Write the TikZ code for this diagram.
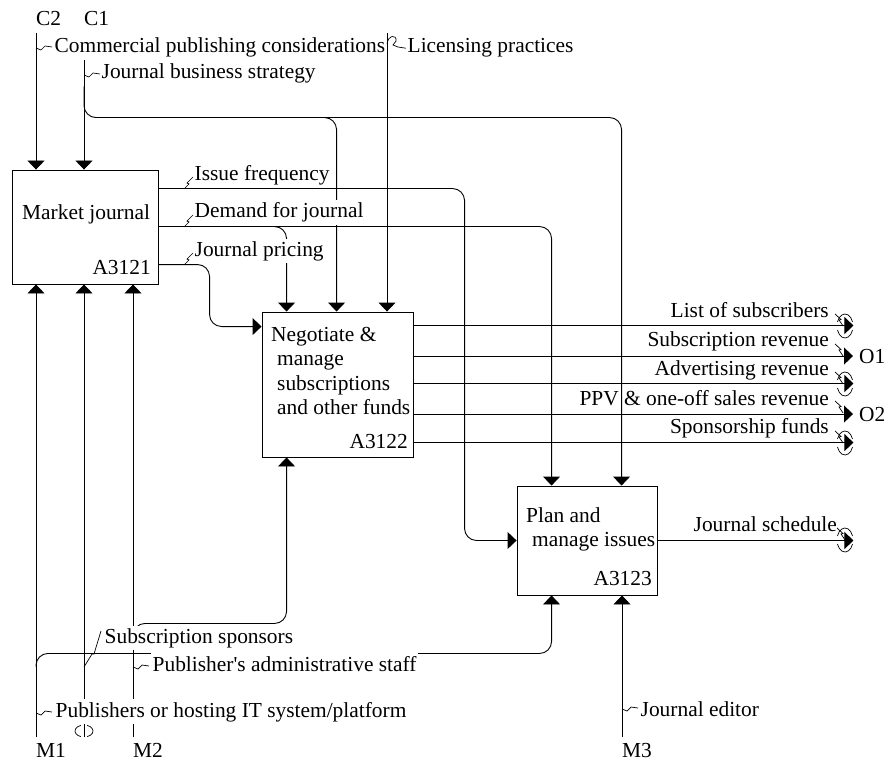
\documentclass[tikz,border=0pt]{standalone}
\usepackage{fontspec}
\setmainfont{Liberation Serif}
\usetikzlibrary{arrows.meta,positioning,calc}
\tikzset{
  fnbox/.style={draw,line width=0.9pt,inner sep=0pt,minimum width=146pt,minimum height=114pt},
  fntext/.style={font=\fontsize{21.4}{24.5}\selectfont,inner sep=0pt,align=left},
  fnnum/.style={font=\fontsize{21.4}{24.5}\selectfont,inner sep=0pt,anchor=base east},
  bnd/.style={font=\fontsize{21.4}{24.5}\selectfont,inner sep=0pt,anchor=base west},
  lbl/.style={font=\fontsize{21.4}{24.5}\selectfont,fill=white,inner xsep=1.5pt,inner ysep=2.5pt,anchor=base west},
  olbl/.style={font=\fontsize{21.4}{24.5}\selectfont,inner sep=1pt,anchor=base east},
  arr/.style={-{Triangle[length=9pt,width=17pt]},line width=0.9pt,rounded corners=12pt},
  sq/.style={line width=0.7pt},
  tunh/.pic={\draw[sq] (-8,0) ++(200:8 and 12) arc[start angle=200,end angle=340,x radius=8,y radius=12];
             \draw[sq] (-8,0) ++(20:8 and 12) arc[start angle=20,end angle=160,x radius=8,y radius=12];},
  tunv/.pic={\draw[sq] (110:9 and 6) arc[start angle=110,end angle=250,x radius=9,y radius=6];
             \draw[sq] (-70:9 and 6) arc[start angle=-70,end angle=70,x radius=9,y radius=6];},
  sw/.pic={\draw[sq] (0,0) -- (5,2) -- (9,-2) -- (16,-1);},
  zz/.pic={\draw[sq] (0,0) -- (5,-5) -- (3,-6) -- (9,-12);},
  zzo/.pic={\draw[sq] (0,0) -- (-4,-6) -- (-2,-6.5) -- (-8,-12);}
}
\begin{document}
\begin{tikzpicture}[x=1pt,y=-1pt]
  \useasboundingbox (0,0) rectangle (886,762);
  % activity boxes
  \node[fnbox] (a1) at (85,227) {};
  \node[fnbox,minimum width=151pt,minimum height=145pt] (a2) at (337.5,384.5) {};
  \node[fnbox,minimum width=140pt,minimum height=109pt] (a3) at (587,540.5) {};
  \node[fntext,anchor=base west] (a1t) at (22,220) {Market journal};
  \node[fnnum] (a1n) at (151,274) {A3121};
  \node[fntext,anchor=north west] (a2t) at (271,327) {Negotiate \&\\\hspace*{6pt}manage\\\hspace*{6pt}subscriptions\\\hspace*{6pt}and other funds};
  \node[fnnum] (a2n) at (408,448) {A3122};
  \node[fntext,anchor=north west] (a3t) at (526,507) {Plan and\\\hspace*{6pt}manage issues};
  \node[fnnum] (a3n) at (652,585) {A3123};
  % boundary codes
  \node[bnd] (c2) at (36,26) {C2};
  \node[bnd] (c1) at (84,26) {C1};
  \node[bnd] (m1) at (36,757) {M1};
  \node[bnd] (m2) at (133,757) {M2};
  \node[bnd] (m3) at (622,757) {M3};
  \node[bnd] (o1) at (859,363) {O1};
  \node[bnd] (o2) at (859,421) {O2};
  \coordinate (lic) at (387,33);
  \coordinate (spo) at (84,737);
  % controls
  \draw[arr] ([yshift=-7pt]c2.south west) -- (c2.south west |- a1.north);
  \draw[arr] ([yshift=-33pt]c1.south west) -- (c1.south west |- a1.north);
  \draw[arr] ([yshift=-60pt]c1.south west) |- ($(a2.north west)+(75,-194)$) -- ($(a2.north west)+(75,0)$);
  \draw[arr] ($(a2.north west)+(60,-194)$) -| ($(a3.north west)+(105,0)$);
  \draw[arr] (lic) -- (lic |- a2.north);
  % outputs of A3121
  \draw[arr] ($(a1.north east)+(0,19)$) -| ($(a3.west)+(-52,0)$) -- (a3.west);
  \draw[arr] ($(a1.north east)+(0,57)$) -| ($(a3.north west)+(35,0)$);
  \draw[arr] ($(a1.north east)+(110,57)$) -| ($(a2.north west)+(25,0)$);
  \draw[arr] ($(a1.north east)+(0,95)$) -| ($(a2.north west)+(-52,15)$) -- ($(a2.north west)+(0,15)$);
  % outputs of A3122 and A3123
  \draw[arr] ($(a2.north east)+(0,14)$) -- ($(a2.north east)+(440,14)$);
  \draw[arr] (a2.east |- o1.west) -- ([xshift=-6pt]o1.west);
  \draw[arr] ($(a2.north east)+(0,72)$) -- ($(a2.north east)+(440,72)$);
  \draw[arr] (a2.east |- o2.west) -- ([xshift=-6pt]o2.west);
  \draw[arr] ($(a2.north east)+(0,131)$) -- ($(a2.north east)+(440,131)$);
  \draw[arr] (a3.east) -- ($(a3.east)+(196,0)$);
  % mechanisms
  \draw[arr] ([yshift=6pt]m1.north west) -- (m1.north west |- a1.south);
  \draw[arr] ([yshift=76pt]m1.north west) |- ($(a3.south west)+(35,58)$) -- ($(a3.south west)+(35,0)$);
  \draw[arr] (spo) -- (spo |- a1.south);
  \draw[arr] ([yshift=6pt]m2.north west) -- (m2.north west |- a1.south);
  \draw[arr] ([yshift=110pt]m2.north west) |- ($(a2.south west)+(25,166)$) -- ($(a2.south west)+(25,0)$);
  \draw[arr] ([yshift=6pt]m3.north west) -- (m3.north west |- a3.south);
  % arrow labels
  \node[lbl] (cpc) at (53,53) {Commercial publishing considerations};
  \node[lbl] (jbs) at (100,79) {Journal business strategy};
  \node[lbl] (lpr) at (406,53) {Licensing practices};
  \node[lbl] (ifq) at (193,181) {Issue frequency};
  \node[lbl] (dfj) at (193,218) {Demand for journal};
  \node[lbl] (jpr) at (193,256) {Journal pricing};
  \node[lbl] (sps) at (103,643) {Subscription sponsors};
  \node[lbl] (pas) at (151,671) {Publisher\textquotesingle s administrative staff};
  \node[lbl] (pit) at (54,717) {Publishers or hosting IT system/platform};
  \node[lbl] (jed) at (639,716) {Journal editor};
  \node[lbl] (jsc) at (692,531) {Journal schedule};
  \node[olbl] (los) at (830,317) {List of subscribers};
  \node[olbl] (srv) at (830,346) {Subscription revenue};
  \node[olbl] (arv) at (830,375) {Advertising revenue};
  \node[olbl] (ppv) at (830,405) {PPV \& one-off sales revenue};
  \node[olbl] (sfd) at (830,433) {Sponsorship funds};
  % squiggles and tunnels
  \pic at (36,48) {sw};
  \pic at (84,75) {sw};
  \draw[sq] (387,44) .. controls (388,35) and (397,34) .. (396,41) -- (393,45) -- (398,47) -- (lpr.west);
  \pic at (184,189) {zz};
  \pic at (184,227) {zz};
  \pic at (184,265) {zz};
  \draw[sq] (84,667) -- (92,654) -- (94,654) -- (101,631);
  \pic at (133,667) {sw};
  \pic at (36,713) {sw};
  \pic at (622,709) {sw};
  \pic at (843,326) {zzo};
  \pic at (843,356) {zzo};
  \pic at (843,384) {zzo};
  \pic at (843,413) {zzo};
  \pic at (843,443) {zzo};
  \pic at (845,540) {zzo};
  \pic at (853,326) {tunh};
  \pic at (853,384) {tunh};
  \pic at (853,443) {tunh};
  \pic at (853,540) {tunh};
  \pic at (84,731) {tunv};
\end{tikzpicture}
\end{document}
